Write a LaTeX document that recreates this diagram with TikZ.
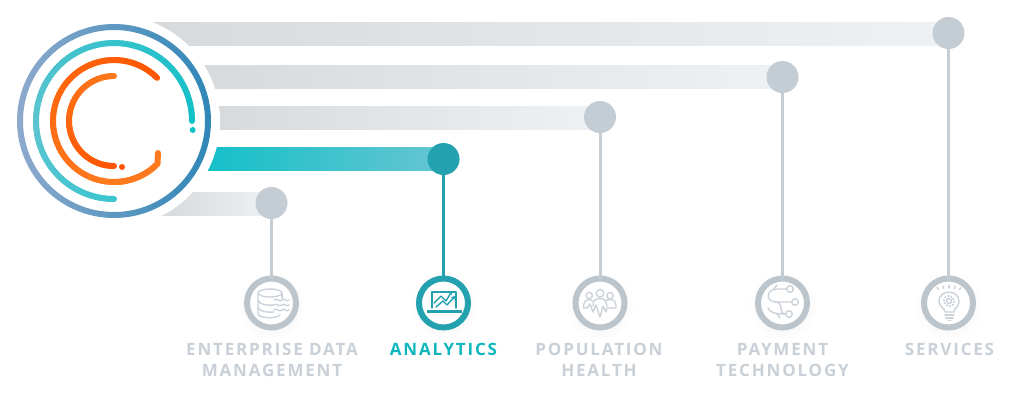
\documentclass[tikz,border=0pt]{standalone}
\usepackage{fontspec}
\setmainfont{Open Sans}
\newfontfamily\lblfont[LetterSpace=10.7,Ligatures=NoCommon]{Open Sans}
\usetikzlibrary{arrows.meta,calc}
\definecolor{hubgray}{HTML}{C4CCD4}
\definecolor{ringgray}{HTML}{BCC5CC}
\definecolor{hubteal}{HTML}{23A1AE}
\definecolor{txtgray}{HTML}{C9D0D7}
\definecolor{txtteal}{HTML}{10B6BE}
\definecolor{icgray}{HTML}{CBD2D9}
\definecolor{bargrayA}{HTML}{D6DADD}
\definecolor{bargrayM}{HTML}{DFE2E5}
\definecolor{bargrayB}{HTML}{EFF2F5}
\definecolor{barA}{HTML}{14C0C8}
\definecolor{barM}{HTML}{2CC1CB}
\definecolor{barB}{HTML}{66C5D3}
\definecolor{outerA}{HTML}{8DA9CC}
\definecolor{outerB}{HTML}{2F87B7}
\definecolor{tealZ}{HTML}{3CC5D0}
\definecolor{tealA}{HTML}{5CC4D0}
\definecolor{tealB}{HTML}{12C0C8}
\definecolor{orA}{HTML}{FF7A1E}
\definecolor{orB}{HTML}{FF5500}
\tikzset{
  hub/.style={circle,fill=hubgray,inner sep=0,outer sep=0,minimum size=32pt},
  hubon/.style={hub,fill=hubteal},
  iconring/.style={circle,draw=ringgray,fill=white,line width=6pt,inner sep=0,outer sep=0,minimum size=49pt},
  iconringon/.style={iconring,draw=hubteal},
  conn/.style={draw=hubgray,line width=3pt},
  connon/.style={draw=hubteal,line width=3pt},
  lbl/.style={inner sep=0,outer sep=0,align=center,anchor=north,text=txtgray,font=\lblfont\bfseries\fontsize{17}{21}\selectfont},
  ic/.style={draw=icgray,line width=1.4pt,line cap=round,line join=round},
  icon/.style={draw=hubteal,line width=1.4pt,line cap=round,line join=round},
  seg/.style={line width=6pt,line cap=round}
}
% center point, radius, start, end, colour at start, colour at end
\newcommand{\gradarc}[6]{%
  \foreach \k in {0,...,59}{%
    \pgfmathsetmacro{\aa}{#3+(#4-#3)*\k/60}%
    \pgfmathsetmacro{\bb}{#3+(#4-#3)*(\k+1)/60}%
    \pgfmathsetmacro{\pp}{100*\k/59}%
    \draw[seg,draw={#6!\pp!#5}] ($(#1)+(\aa:#2)$) -- ($(#1)+(\bb:#2)$);
  }%
}
\begin{document}
\begin{tikzpicture}[x=1pt,y=-1pt]
\useasboundingbox (0,0) rectangle (1015,400);
\fill[white] (0,0) rectangle (1015,400);
\coordinate (c) at (114,121);
% bars
\shade[left color=bargrayA,middle color=bargrayM,right color=bargrayB] (150,22) rectangle (948.5,45);
\shade[left color=bargrayA,middle color=bargrayM,right color=bargrayB] (200,65) rectangle (782.5,88);
\shade[left color=bargrayA,middle color=bargrayM,right color=bargrayB] (215,106) rectangle (600.5,129);
\shade[left color=barA,middle color=barM,right color=barB] (205,147) rectangle (443.5,170);
\shade[left color=bargrayA,middle color=bargrayM,right color=bargrayB] (160,192) rectangle (271.5,215);
% halo
\fill[white] (c) circle (106);
% rings
\shade[left color=outerA,right color=outerB,even odd rule] (c) circle (97) (c) circle (91);
\gradarc{c}{78}{90}{180}{tealZ}{tealA}
\gradarc{c}{78}{180}{360}{tealA}{tealB}
\fill[tealB] (192.7,130) circle (3);
\gradarc{c}{61}{315}{90}{orB}{orA}
\gradarc{c}{61}{90}{45}{orA}{orA}
\draw[seg,draw=orA] (157.5,164) -- (158,153);
\gradarc{c}{45}{270}{90}{orA}{orB}
\fill[orB] (122,167) circle (3);
% soft shadows under icon rings
\foreach \x in {271.5,443.5,600,782.5,948.5}
  \shade[inner color=black!7,outer color=white] (\x,306) circle (35);
% hubs and icon rings
\node[hub] (h1) at (271.5,203) {};
\node[hubon] (h2) at (443.5,159) {};
\node[hub] (h3) at (600,117) {};
\node[hub] (h4) at (782.5,77) {};
\node[hub] (h5) at (948.5,33) {};
\node[iconring] (i1) at (271.5,303) {};
\node[iconringon] (i2) at (443.5,303) {};
\node[iconring] (i3) at (600,303) {};
\node[iconring] (i4) at (782.5,303) {};
\node[iconring] (i5) at (948.5,303) {};
\draw[conn] (h1) -- (i1);
\draw[connon] (h2) -- (i2);
\draw[conn] (h3) -- (i3);
\draw[conn] (h4) -- (i4);
\draw[conn] (h5) -- (i5);
% database icon
\draw[ic] (270,293) ellipse [x radius=12,y radius=4];
\draw[ic] (258,293) -- (258,313) .. controls (258,319) and (276,319) .. (280,315);
\draw[ic] (282,293) -- (282,298);
\draw[ic] (258,300) .. controls (259,305) and (268,305.5) .. (274,305);
\draw[ic] (258,307) .. controls (259,312) and (268,312.5) .. (274,312);
\foreach \y in {300,305,310}
  \draw[ic] (274,\y) .. controls (277,{\y-3}) and (279,{\y+3}) .. (282,\y) .. controls (284,{\y-3}) and (287,{\y+3}) .. (289,\y);
% analytics icon
\draw[icon] (432,308) -- (432,292) -- (456,292) -- (456,308);
\fill[hubteal] (427,310) rectangle (462,313);
\draw[icon,-{Stealth[length=4pt,width=5pt]}] (434,303) -- (441,296) -- (446,301) -- (452,291);
\draw[icon,-{Stealth[length=4pt,width=5pt]}] (436,307) -- (443,301) -- (447,305) -- (455,296);
% population icon
\draw[ic] (600,293.3) circle (3.8);
\draw[ic] (589.3,295.5) circle (3.2);
\draw[ic] (610,295.7) circle (3.2);
\draw[ic] (583.5,308) .. controls (583,302) and (586,299.5) .. (589.5,299.5) .. controls (591,299.5) and (592,300) .. (593,301);
\draw[ic] (593,306) .. controls (593,300) and (596,298.5) .. (600,298.5) .. controls (604,298.5) and (606,300) .. (607,306);
\draw[ic] (606.5,300.5) .. controls (608,299.5) and (610,299.5) .. (611,299.5) .. controls (614,299.5) and (616,302) .. (616,305) -- (616,308) -- (607,308);
\draw[ic] (583.5,308) -- (587,308) -- (590,304) -- (593,312) -- (596,305) -- (600,317) -- (603,306) -- (606,312) -- (607,308);
% payment icon
\draw[ic] (790,289) circle (3.3);
\draw[ic] (795,302) circle (3.3);
\draw[ic] (789,314) circle (3.3);
\draw[ic] (786.7,289) -- (777,289) .. controls (766,289) and (765,302) .. (776,302) -- (791.7,302);
\draw[ic] (776,302) .. controls (784,302) and (778,314) .. (785.7,314);
\draw[ic] (768,308) .. controls (770,312) and (773,314) .. (785.7,314);
\draw[ic] (774,289) -- (777,285);
\draw[ic] (777,314) -- (780,318);
% services icon
\draw[ic] (945,312) .. controls (945,308) and (939,307) .. (939,301.5) .. controls (939,289) and (959,289) .. (959,301.5) .. controls (959,307) and (954,308) .. (954,312) -- cycle;
\draw[ic] (949,301) circle (2.5);
\draw[ic,line width=2pt,dash pattern=on 1.6pt off 1.6pt,line cap=butt] (949,301) circle (5.2);
\draw[ic] (945,315) -- (954,315);
\draw[ic] (946,318) -- (953,318);
\draw[ic] (948,320.5) -- (951,320.5);
\foreach \a/\b/\p/\q in {937/287.5/938.5/289.5, 943/286/943.8/288.5, 949/285.5/949/288, 955/286/954.2/288.5, 961/287.5/959.5/289.5}
  \draw[ic] (\a,\b) -- (\p,\q);
% labels
\node[lbl] (l1) at (272,343) {ENTERPRISE DATA\\MANAGEMENT};
\node[lbl,text=txtteal] (l2) at (443.5,343) {ANALYTICS};
\node[lbl] (l3) at (599,343) {POPULATION\\HEALTH};
\node[lbl] (l4) at (782.5,343) {PAYMENT\\TECHNOLOGY};
\node[lbl] (l5) at (949.5,343) {SERVICES};
\end{tikzpicture}
\end{document}
